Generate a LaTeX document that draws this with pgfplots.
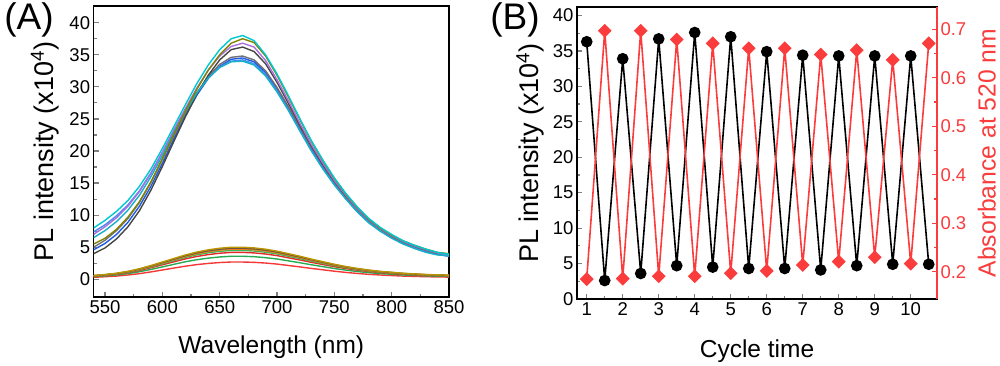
\documentclass[border=0pt]{standalone}
\usepackage{fontspec}
\setmainfont{Liberation Sans}
\usepackage{pgfplots}
\pgfplotsset{compat=1.18}
\usepackage{pgfplotstable}

\definecolor{cH1}{RGB}{0,200,210}
\definecolor{cH2}{RGB}{130,130,0}
\definecolor{cH3}{RGB}{170,110,225}
\definecolor{cH4}{RGB}{70,70,70}
\definecolor{cH5}{RGB}{110,110,120}
\definecolor{cH6}{RGB}{30,90,230}
\definecolor{cH7}{RGB}{70,140,245}
\definecolor{cH8}{RGB}{20,175,200}
\definecolor{cL1}{RGB}{245,55,55}
\definecolor{cL2}{RGB}{40,170,80}
\definecolor{cL3}{RGB}{230,40,40}
\definecolor{cL4}{RGB}{60,180,90}
\definecolor{cL5}{RGB}{235,130,20}
\definecolor{cL6}{RGB}{110,80,70}
\definecolor{cL7}{RGB}{185,150,0}
\definecolor{myred}{RGB}{250,60,60}

\pgfplotstableread{
wl  h1   h2   h3   h4   h5   h6   h7   h8   l1   l2   l3   l4   l5   l6   l7
540 8.0  5.5  7.0  4.0  5.0  4.6  7.4  6.5  0.32 0.43 0.50 0.54 0.56 0.58 0.60
550 9.2  6.4  8.2  4.9  6.1  5.6  8.5  7.6  0.41 0.54 0.63 0.68 0.71 0.73 0.75
560 10.6 7.8  9.6  6.3  7.6  7.0  9.9  9.0  0.51 0.68 0.80 0.86 0.89 0.92 0.95
570 12.3 9.7  11.4 8.2  9.5  8.9  11.6 10.8 0.68 0.90 1.05 1.13 1.18 1.21 1.25
580 14.5 12.1 13.7 10.7 12.0 11.4 13.8 13.1 0.89 1.19 1.39 1.49 1.55 1.60 1.65
590 17.2 15.2 16.5 13.9 15.1 14.5 16.6 16.0 1.16 1.55 1.81 1.94 2.02 2.09 2.15
600 20.4 18.8 19.8 17.6 18.7 18.1 19.8 19.3 1.46 1.94 2.27 2.43 2.54 2.62 2.70
610 23.8 22.6 23.3 21.5 22.4 21.9 23.1 22.8 1.76 2.34 2.73 2.93 3.06 3.15 3.25
620 27.2 26.2 26.6 25.3 25.9 25.5 26.3 26.1 2.05 2.74 3.19 3.42 3.57 3.69 3.80
630 30.5 29.6 29.8 28.8 29.0 28.7 29.1 29.0 2.30 3.06 3.57 3.83 4.00 4.12 4.25
640 33.4 32.6 32.6 31.8 31.6 31.3 31.4 31.4 2.48 3.31 3.86 4.14 4.32 4.46 4.60
650 35.8 35.0 34.8 34.2 33.5 33.2 33.1 33.0 2.62 3.49 4.07 4.37 4.56 4.70 4.85
660 37.5 36.8 36.3 35.8 34.6 34.3 34.0 33.9 2.70 3.60 4.20 4.50 4.70 4.85 5.00
670 38.0 37.5 36.8 36.2 34.8 34.5 34.2 34.0 2.70 3.60 4.20 4.50 4.70 4.85 5.00
680 37.2 36.9 36.2 35.5 34.2 33.9 33.6 33.4 2.65 3.53 4.12 4.41 4.61 4.75 4.90
690 35.0 34.8 34.1 33.6 32.5 32.2 31.9 31.7 2.54 3.38 3.95 4.23 4.42 4.56 4.70
700 32.0 31.8 31.1 30.7 29.9 29.6 29.4 29.2 2.38 3.17 3.70 3.96 4.14 4.27 4.40
710 28.6 28.4 27.8 27.4 26.9 26.6 26.4 26.3 2.16 2.88 3.36 3.60 3.76 3.88 4.00
720 25.0 24.9 24.3 24.0 23.7 23.4 23.2 23.1 1.94 2.59 3.02 3.24 3.38 3.49 3.60
730 21.6 21.5 21.0 20.8 20.6 20.3 20.1 20.0 1.70 2.27 2.65 2.84 2.96 3.06 3.15
740 18.6 18.5 18.1 17.9 17.8 17.5 17.3 17.2 1.49 1.98 2.31 2.48 2.59 2.67 2.75
750 15.8 15.7 15.4 15.3 15.2 15.0 14.8 14.7 1.27 1.69 1.97 2.12 2.21 2.28 2.35
760 13.4 13.3 13.1 13.0 12.9 12.7 12.6 12.5 1.08 1.44 1.68 1.80 1.88 1.94 2.00
770 11.3 11.2 11.0 11.0 10.9 10.7 10.6 10.5 0.92 1.22 1.43 1.53 1.60 1.65 1.70
780 9.5  9.4  9.3  9.3  9.2  9.0  8.9  8.8  0.78 1.04 1.22 1.31 1.36 1.41 1.45
790 8.1  8.0  7.9  7.9  7.8  7.7  7.6  7.5  0.68 0.90 1.05 1.13 1.18 1.21 1.25
800 7.0  6.9  6.8  6.8  6.7  6.6  6.5  6.4  0.59 0.79 0.92 0.99 1.03 1.07 1.10
810 6.0  6.0  5.9  5.9  5.8  5.7  5.6  5.5  0.51 0.68 0.80 0.86 0.89 0.92 0.95
820 5.3  5.3  5.2  5.2  5.1  5.0  4.9  4.8  0.46 0.61 0.71 0.77 0.80 0.82 0.85
830 4.7  4.7  4.6  4.6  4.5  4.4  4.3  4.2  0.41 0.54 0.63 0.68 0.71 0.73 0.75
840 4.2  4.2  4.1  4.1  4.0  3.9  3.9  3.8  0.38 0.50 0.59 0.63 0.66 0.68 0.70
850 3.9  4.0  3.8  3.9  3.8  3.6  3.6  3.7  0.35 0.47 0.55 0.59 0.61 0.63 0.65
}\spectra

\pgfplotstableread{
x    pl
1    36.3
1.5  2.6
2    33.9
2.5  3.6
3    36.7
3.5  4.7
4    37.6
4.5  4.5
5    37.0
5.5  4.3
6    34.9
6.5  4.3
7    34.4
7.5  4.1
8    34.3
8.5  4.7
9    34.3
9.5  4.9
10   34.3
10.5 4.9
}\pldata

\pgfplotstableread{
x    ab
1    0.185
1.5  0.697
2    0.186
2.5  0.697
3    0.191
3.5  0.679
4    0.191
4.5  0.671
5    0.197
5.5  0.661
6    0.202
6.5  0.661
7    0.214
7.5  0.648
8    0.221
8.5  0.657
9    0.230
9.5  0.637
10   0.217
10.5 0.671
}\abdata

\pgfplotsset{
  myaxis/.style={
    scale only axis,
    axis line style={line width=1.4pt},
    tick style={line width=1.2pt},
    major tick length=5pt,
    minor tick length=3pt,
    tick align=inside,
    tick label style={font=\fontsize{18.5}{20}\selectfont},
    /pgf/number format/assume math mode=true,
  },
}

\begin{document}
\begin{tikzpicture}[x=1pt,y=1pt]
\useasboundingbox (0,0) rectangle (1000,366);

% Panel A
\begin{axis}[myaxis,
  xtick pos=bottom, ytick pos=left,
  at={(93.6pt,69pt)}, anchor=south west,
  width=355.4pt, height=291pt,
  xmin=540, xmax=850, ymin=-2.75, ymax=42.6,
  xtick={550,600,...,850}, minor x tick num=1,
  ytick={0,5,...,40}, minor y tick num=1,
  xlabel={Wavelength (nm)},
  ylabel={PL intensity (x10\textsuperscript{4})},
  xlabel style={font=\fontsize{24.5}{26}\selectfont, yshift=-15pt},
  ylabel style={font=\fontsize{27}{29}\selectfont, yshift=4pt},
  every axis plot/.append style={line width=1.4pt},
]
\addplot[cL1] table[x=wl,y=l1]{\spectra};
\addplot[cL2] table[x=wl,y=l2]{\spectra};
\addplot[cL3] table[x=wl,y=l3]{\spectra};
\addplot[cL4] table[x=wl,y=l4]{\spectra};
\addplot[cL5] table[x=wl,y=l5]{\spectra};
\addplot[cL6] table[x=wl,y=l6]{\spectra};
\addplot[cL7] table[x=wl,y=l7]{\spectra};
\addplot[cH6] table[x=wl,y=h6]{\spectra};
\addplot[cH7] table[x=wl,y=h7]{\spectra};
\addplot[cH5] table[x=wl,y=h5]{\spectra};
\addplot[cH4] table[x=wl,y=h4]{\spectra};
\addplot[cH3] table[x=wl,y=h3]{\spectra};
\addplot[cH8] table[x=wl,y=h8]{\spectra};
\addplot[cH2] table[x=wl,y=h2]{\spectra};
\addplot[cH1] table[x=wl,y=h1]{\spectra};
\end{axis}

% Panel B, left axis
\begin{axis}[myaxis,
  xtick pos=bottom, ytick pos=left,
  at={(577pt,67pt)}, anchor=south west,
  width=360pt, height=292pt,
  xmin=0.73, xmax=10.73, ymin=0, ymax=41.2,
  xtick={1,...,10}, minor x tick num=1,
  ytick={0,5,...,40}, minor y tick num=1,
  xlabel={Cycle time},
  ylabel={PL intensity (x10\textsuperscript{4})},
  xlabel style={font=\fontsize{24.5}{26}\selectfont, yshift=-17pt},
  ylabel style={font=\fontsize{27}{29}\selectfont, yshift=2pt},
]
\addplot[black, line width=1.6pt, mark=*, mark size=5pt] table[x=x,y=pl]{\pldata};
\end{axis}

% Panel B, right axis
\begin{axis}[myaxis,
  at={(577pt,67pt)}, anchor=south west,
  width=360pt, height=292pt,
  xmin=0.73, xmax=10.73, ymin=0.144, ymax=0.746,
  axis x line=none,
  axis y line*=right,
  tick align=inside,
  ytick pos=right, yticklabel pos=right,
  ytick={0.2,0.3,0.4,0.5,0.6,0.7}, minor y tick num=1,
  y axis line style={myred, line width=1.4pt},
  ytick style={myred, line width=1.2pt},
  yticklabel style={myred, /pgf/number format/fixed, /pgf/number format/precision=1},
  ylabel={Absorbance at 520 nm},
  ylabel near ticks,
  ylabel style={myred, font=\fontsize{24.7}{26}\selectfont, inner sep=0pt, yshift=-8pt},
]
\addplot[myred, line width=1.6pt, mark=square*, mark size=4.1pt, mark options={rotate=45}] table[x=x,y=ab]{\abdata};
\end{axis}

\node[font=\fontsize{37}{40}\selectfont, inner sep=0pt] at (29,346) {(A)};
\node[font=\fontsize{37}{40}\selectfont, inner sep=0pt] at (515,346) {(B)};
\end{tikzpicture}
\end{document}
